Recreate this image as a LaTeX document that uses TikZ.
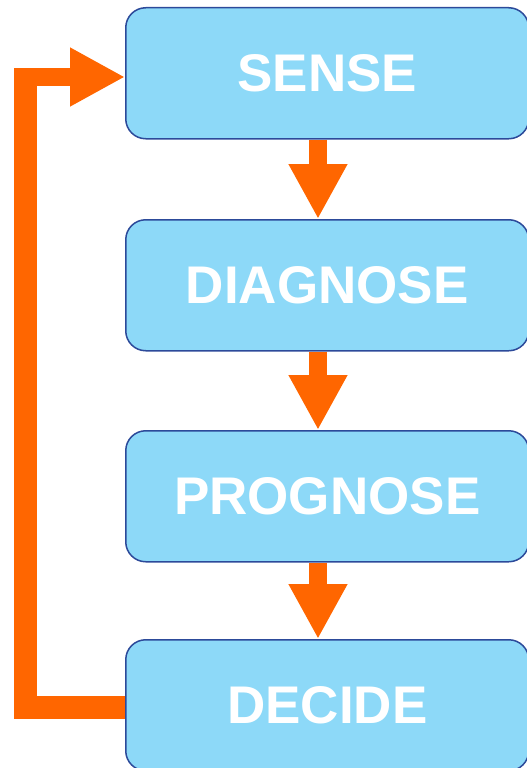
\documentclass[tikz,border=0pt]{standalone}
\usepackage{fontspec}
\setmainfont{Liberation Sans}
\usetikzlibrary{arrows.meta}
\definecolor{boxfill}{HTML}{8DD9F8}
\definecolor{boxline}{HTML}{2C4A9A}
\definecolor{flow}{HTML}{FF6600}
\begin{document}
\begin{tikzpicture}[x=1pt,y=-1pt,
  stagebox/.style={draw=boxline, line width=1.5pt, fill=boxfill, rounded corners=20pt,
    minimum width=403pt, minimum height=131pt, inner sep=0pt, anchor=north west,
    text=white, font=\fontsize{53}{60}\selectfont\bfseries},
  flowarrow/.style={draw=flow, line width=18pt, -{Triangle[length=55pt,width=55pt]}},
  flowline/.style={draw=flow, line width=23pt, line join=miter}]
\useasboundingbox (0,0) rectangle (527,768);
\node[stagebox] (sense) at (125,7) {SENSE};
\node[stagebox] (diag) at (125,219) {DIAGNOSE};
\node[stagebox] (prog) at (125,430) {PROGNOSE};
\node[stagebox] (dec) at (125,639) {DECIDE};
\coordinate (ax) at (318,0);
\draw[flowarrow] (sense.south -| ax) -- (diag.north -| ax);
\draw[flowarrow] (diag.south -| ax) -- (prog.north -| ax);
\draw[flowarrow] (prog.south -| ax) -- (dec.north -| ax);
\coordinate (c1) at (25.5,707);
\coordinate (c2) at (25.5,77);
\coordinate (c3) at (14,77);
\draw[flowline] (dec.west |- c1) -- (c1) -- (c2);
\draw[flowarrow] (c3) -- (sense.west |- c3);
\end{tikzpicture}
\end{document}
